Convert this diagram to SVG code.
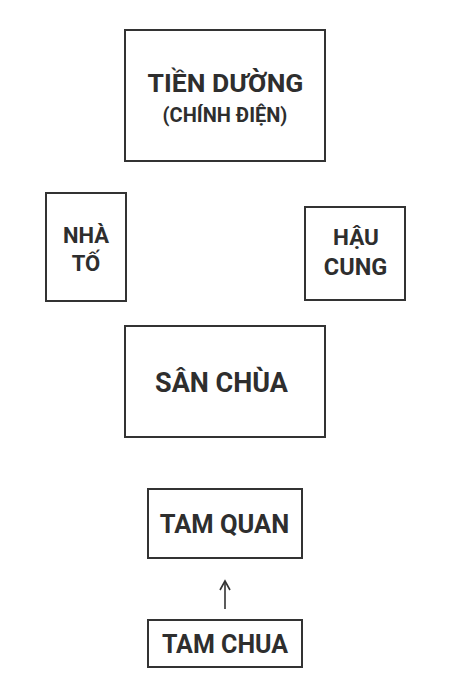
<svg xmlns="http://www.w3.org/2000/svg" width="451" height="677" viewBox="0 0 451 677">
<style>
.box{fill:#fff;stroke:#333;stroke-width:2}
.t{font-family:Roboto,"Liberation Sans",sans-serif;font-weight:bold;fill:#2e2e2e;text-anchor:middle}
.conn{stroke:#333;stroke-width:1.6;fill:none}
</style>
<defs>
<marker id="open" viewBox="0 0 12 12" refX="10" refY="6" markerWidth="12" markerHeight="12" markerUnits="userSpaceOnUse" orient="auto">
<path d="M1,1 L10,6 L1,11" fill="none" stroke="#333" stroke-width="1.6"/>
</marker>
</defs>
<rect width="451" height="677" fill="#fff"/>
<g id="tien-duong">
<rect class="box" x="125" y="30" width="200" height="131"/>
<text class="t" x="225.5" y="92" font-size="26.5">TIỀN DƯỜNG</text>
<text class="t" x="225" y="122" font-size="20" font-weight="500">(CHÍNH ĐIỆN)</text>
</g>
<g id="nha-to">
<rect class="box" x="46" y="193" width="80" height="108"/>
<text class="t" x="86" y="243" font-size="22">NHÀ</text>
<text class="t" x="86" y="271" font-size="22">TỐ</text>
</g>
<g id="hau-cung">
<rect class="box" x="305" y="207" width="100" height="93"/>
<text class="t" x="356" y="245" font-size="22.5">HẬU</text>
<text class="t" x="355.5" y="275" font-size="23.5">CUNG</text>
</g>
<g id="san-chua">
<rect class="box" x="125" y="326" width="200" height="111"/>
<text class="t" x="221.5" y="392" font-size="27">SÂN CHÙA</text>
</g>
<g id="tam-quan">
<rect class="box" x="148" y="489" width="154" height="69"/>
<text class="t" x="224.5" y="533" font-size="25.5">TAM QUAN</text>
</g>
<g id="tam-chua">
<rect class="box" x="148" y="620" width="154" height="47"/>
<text class="t" x="225" y="653" font-size="25">TAM CHUA</text>
</g>
<g id="connectors">
<line class="conn" x1="225" y1="609" x2="225" y2="581" marker-end="url(#open)"/>
</g>
</svg>
